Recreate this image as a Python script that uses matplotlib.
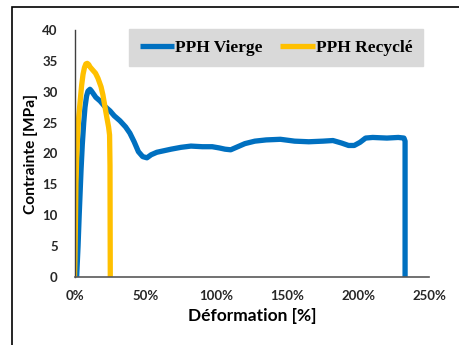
import matplotlib.pyplot as plt
from matplotlib.patches import Rectangle
from matplotlib.ticker import FuncFormatter

# PPH Vierge : déformation [%], contrainte [MPa]
vierge_def = [1.5, 2.5, 3.3, 4.6, 5.5, 6.5, 7.4, 8.5, 9.5, 10.9, 12.0, 13.5, 15, 18, 21, 25,
              28, 32, 36, 39, 42, 45, 48, 51, 54, 58, 62, 68, 75, 82, 90, 97, 102, 106,
              110, 114, 120, 127, 135, 145, 155, 165, 175, 182, 188, 193, 197, 201, 205,
              210, 220, 228, 232, 232.8, 232.8]
vierge_con = [0, 5, 10, 17.3, 21.5, 25, 27.5, 29.3, 30.1, 30.4, 30.1, 29.6, 29.1, 28.5, 27.7, 26.9,
              26.1, 25.3, 24.3, 23.3, 21.9, 20.3, 19.5, 19.3, 19.8, 20.2, 20.4, 20.7, 21.0, 21.2, 21.1, 21.1, 20.9, 20.7,
              20.6, 21.0, 21.6, 22.0, 22.2, 22.3, 22.0, 21.9, 22.0, 22.1, 21.7, 21.3, 21.3, 21.8, 22.5,
              22.6, 22.5, 22.6, 22.5, 22.0, 0]

# PPH Recyclé
recycle_def = [0, 0.3, 0.6, 1.0, 1.5, 2.2, 3.0, 4.0, 5.0, 6.0, 7.0, 8.0, 9.0, 10.0, 11.0, 12.5,
               14.8, 16.5, 18.7, 20.0, 21.5, 22.8, 24.0, 24.7, 25.0, 25.1, 25.2]
recycle_con = [0, 3, 8, 15, 19, 23, 26, 28.5, 31, 32.8, 33.9, 34.5, 34.6, 34.4, 34.0, 33.6,
               33.0, 32.2, 30.8, 29.5, 27.5, 25.8, 24.3, 23.0, 18, 8, 0]

x_ticks = [0, 50, 100, 150, 200, 250]
y_ticks = [0, 5, 10, 15, 20, 25, 30, 35, 40]

plt.rcParams['font.family'] = ['Lato', 'DejaVu Sans']

fig = plt.figure(figsize=(4.6, 3.45), dpi=100)
ax = fig.add_axes([74.5 / 460, 68 / 345, 355 / 460, 247 / 345])

ax.plot(vierge_def, vierge_con, color='#0070C0', lw=3.8, label='PPH Vierge',
        solid_joinstyle='round', solid_capstyle='butt')
ax.plot(recycle_def, recycle_con, color='#FFC000', lw=3.8, label='PPH Recyclé',
        solid_joinstyle='round', solid_capstyle='butt')

ax.set_xlim(0, 250)
ax.set_ylim(0, 40)
ax.set_xticks(x_ticks)
ax.set_yticks(y_ticks)
ax.xaxis.set_major_formatter(FuncFormatter(lambda v, p: f"{v:.0f}%"))
ax.tick_params(length=0, labelsize=9.5, colors='#262626')
ax.tick_params(axis='x', pad=9)
ax.tick_params(axis='y', pad=12)
for lab in ax.get_xticklabels() + ax.get_yticklabels():
    lab.set_fontweight('bold')

for s in ['top', 'right']:
    ax.spines[s].set_visible(False)
ax.spines['left'].set_color('#404040')
ax.spines['bottom'].set_color('#595959')
ax.spines['left'].set_linewidth(1.0)
ax.spines['bottom'].set_linewidth(1.2)

ax.set_xlabel('Déformation [%]', fontsize=12.5, fontweight='bold', labelpad=5)
ax.set_ylabel('Contrainte [MPa]', fontsize=11.2, fontweight='bold', labelpad=3)

leg = ax.legend(loc='center', bbox_to_anchor=(0.139, 0.842, 0.857, 0.174), ncol=2,
                prop={'family': 'Liberation Serif', 'weight': 'bold', 'size': 12.5},
                frameon=True, fancybox=False, framealpha=1, handlelength=2.0,
                handletextpad=0.05, columnspacing=1.0, borderpad=0.6)
leg.get_frame().set_facecolor('#D9D9D9')
leg.get_frame().set_edgecolor('#D9D9D9')

# cadre extérieur
fig.patches.append(Rectangle((12 / 460, -0.05), 1.1, 1.05 - 7 / 345, transform=fig.transFigure,
                             fill=False, edgecolor='black', lw=1.2))

fig.savefig('out.png', dpi=100)
